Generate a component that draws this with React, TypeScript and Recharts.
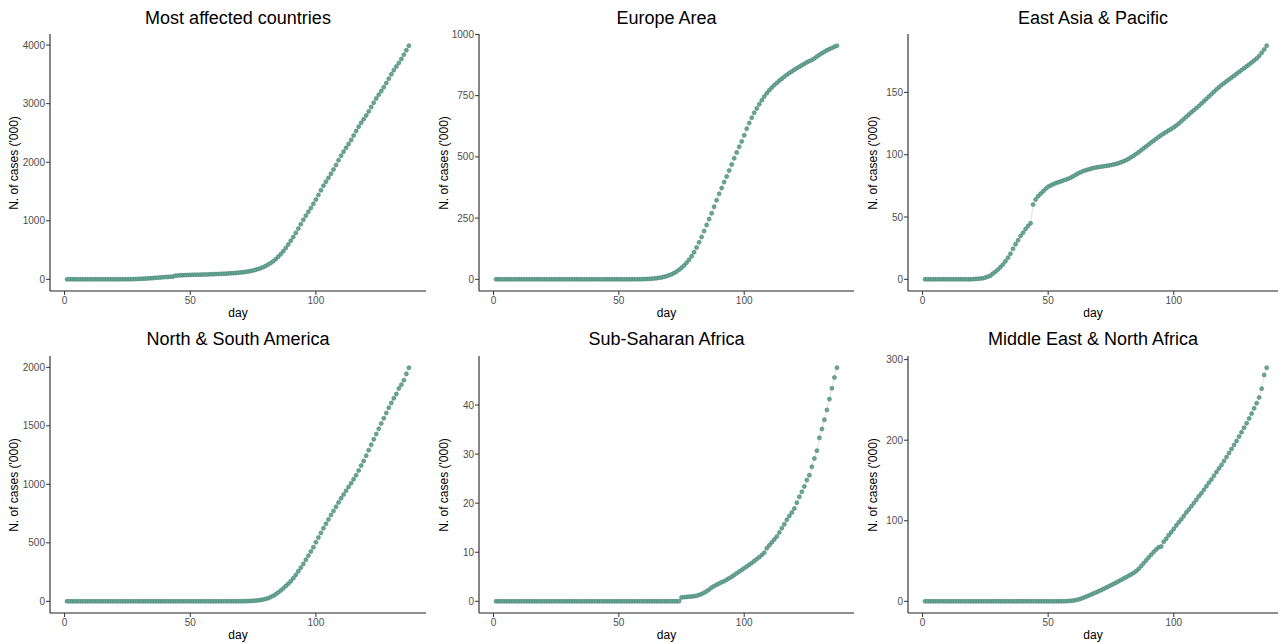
import React from "react";
import { LineChart, Line, XAxis, YAxis } from "recharts";

// cumulative confirmed cases ('000), one value per day, day 1..137
const mostAffected = [
  0, 0, 0, 0, 0, 0, 0, 0, 0, 0,
  0, 0, 0, 0, 0, 0, 0, 0, 0, 0.1,
  0.3, 0.4, 0.6, 0.9, 1.4, 2.1, 3, 4.6, 6.1, 7.9,
  9.9, 12, 14.6, 17.5, 20.7, 24.7, 28.3, 31.6, 35, 37.7,
  40.7, 43.3, 45.6, 60.7, 64.8, 67.6, 69.7, 71.7, 73.8, 75.6,
  76.7, 77.8, 78.9, 79.8, 80.9, 82.1, 83.5, 85.2, 87.3, 89.7,
  91, 93, 95, 97, 99, 102, 105, 108, 112, 116,
  121, 127, 134, 142, 152, 163, 176, 191, 208, 228,
  251, 278, 309, 344, 384, 429, 479, 534, 594, 658,
  722, 793, 866, 942, 1016, 1087, 1153, 1218, 1289, 1362,
  1440, 1522, 1600, 1668, 1733, 1803, 1875, 1952, 2033, 2111,
  2180, 2245, 2311, 2381, 2455, 2531, 2606, 2672, 2735, 2799,
  2868, 2942, 3016, 3089, 3153, 3215, 3281, 3352, 3426, 3500,
  3571, 3634, 3696, 3763, 3836, 3913, 3990,
];

const europeArea = [
  0, 0, 0, 0, 0, 0, 0, 0, 0, 0,
  0, 0, 0, 0, 0, 0, 0, 0, 0, 0,
  0, 0, 0, 0, 0, 0, 0, 0, 0, 0,
  0, 0, 0, 0, 0, 0, 0, 0, 0, 0,
  0, 0, 0, 0, 0, 0, 0, 0, 0, 0,
  0, 0, 0, 0, 0, 0.1, 0.2, 0.3, 0.5, 0.8,
  1.2, 1.8, 2.5, 3.4, 4.5, 6, 7.8, 10, 12.8, 16.2,
  20.3, 25.4, 31.5, 38.8, 47, 56.5, 67.5, 80, 94.5, 111,
  130, 151, 173, 197, 222, 246, 270, 296, 323, 349,
  373, 397, 420, 444, 469, 494, 518, 541, 563, 588,
  615, 638, 660, 680, 698, 715, 731, 746, 760, 772,
  783, 793, 802, 811, 819, 827, 835, 842, 849, 856,
  862, 868, 874, 880, 886, 891, 896, 902, 910, 917,
  923, 929, 935, 940, 945, 950, 954,
];

const eastAsiaPacific = [
  0, 0, 0, 0, 0, 0, 0, 0, 0, 0,
  0, 0, 0, 0, 0, 0, 0, 0, 0, 0.1,
  0.3, 0.4, 0.6, 0.9, 1.4, 2.1, 2.9, 4.6, 6.1, 7.8,
  9.8, 11.9, 14.5, 17.4, 20.5, 24.5, 28.1, 31.3, 34.7, 37.3,
  40.3, 42.8, 45, 60, 64, 66.7, 68.7, 70.6, 72.6, 74.3,
  75.3, 76.3, 77.2, 77.8, 78.6, 79.3, 80, 80.7, 81.6, 82.8,
  84, 85.1, 86, 86.9, 87.6, 88.2, 88.8, 89.3, 89.7, 90.1,
  90.4, 90.7, 91, 91.3, 91.7, 92.1, 92.6, 93.2, 93.9, 94.7,
  95.6, 96.7, 97.9, 99.2, 100.6, 102, 103.5, 105.1, 106.6, 108.2,
  109.8, 111.3, 112.8, 114.3, 115.7, 117, 118.3, 119.5, 120.7, 122,
  123.4, 125, 126.8, 128.6, 130.4, 132.2, 134, 135.7, 137.4, 139.1,
  141, 142.9, 144.8, 146.7, 148.6, 150.5, 152.4, 154.2, 155.9, 157.4,
  158.9, 160.4, 161.9, 163.4, 164.9, 166.4, 167.9, 169.4, 170.9, 172.4,
  174, 175.6, 177.3, 179.3, 181.8, 184.5, 187.5,
];

const americas = [
  0, 0, 0, 0, 0, 0, 0, 0, 0, 0,
  0, 0, 0, 0, 0, 0, 0, 0, 0, 0,
  0, 0, 0, 0, 0, 0, 0, 0, 0, 0,
  0, 0, 0, 0, 0, 0, 0, 0, 0, 0,
  0, 0, 0, 0, 0, 0, 0, 0, 0, 0,
  0, 0, 0, 0, 0, 0, 0, 0, 0, 0,
  0, 0, 0.1, 0.1, 0.2, 0.2, 0.3, 0.4, 0.5, 0.7,
  1, 1.5, 2.1, 3, 4.2, 6, 8.3, 11.5, 15.5, 20.5,
  27, 36, 47, 60, 75, 92, 110, 130, 150, 172,
  198, 226, 256, 287, 320, 355, 390, 426, 462, 505,
  545, 585, 625, 662, 700, 737, 772, 808, 845, 880,
  912, 945, 978, 1010, 1043, 1078, 1118, 1160, 1200, 1245,
  1292, 1338, 1385, 1430, 1475, 1520, 1565, 1610, 1655, 1695,
  1735, 1772, 1820, 1852, 1890, 1944, 1997,
];

const subSaharanAfrica = [
  0, 0, 0, 0, 0, 0, 0, 0, 0, 0,
  0, 0, 0, 0, 0, 0, 0, 0, 0, 0,
  0, 0, 0, 0, 0, 0, 0, 0, 0, 0,
  0, 0, 0, 0, 0, 0, 0, 0, 0, 0,
  0, 0, 0, 0, 0, 0, 0, 0, 0, 0,
  0, 0, 0, 0, 0, 0, 0, 0, 0, 0,
  0, 0, 0, 0, 0, 0, 0, 0, 0, 0,
  0, 0, 0, 0, 0.8, 0.85, 0.9, 0.95, 1, 1.05,
  1.15, 1.3, 1.5, 1.75, 2.05, 2.4, 2.8, 3.1, 3.4, 3.65,
  3.9, 4.1, 4.4, 4.7, 5, 5.35, 5.7, 6.05, 6.4, 6.75,
  7.1, 7.45, 7.8, 8.2, 8.6, 9, 9.45, 9.9, 10.8, 11.4,
  12, 12.6, 13.2, 14, 14.9, 15.7, 16.6, 17.4, 18.1, 18.9,
  20.1, 21.3, 22.3, 23.4, 24.7, 25.7, 27.4, 29.1, 30.7, 33.3,
  35.1, 37, 39, 41.2, 43.4, 45.6, 47.6,
];

const middleEastNorthAfrica = [
  0, 0, 0, 0, 0, 0, 0, 0, 0, 0,
  0, 0, 0, 0, 0, 0, 0, 0, 0, 0,
  0, 0, 0, 0, 0, 0, 0, 0, 0, 0,
  0, 0, 0, 0, 0, 0, 0, 0, 0, 0,
  0, 0, 0, 0, 0, 0, 0, 0, 0, 0,
  0, 0, 0, 0, 0, 0.1, 0.2, 0.4, 0.6, 0.9,
  1.5, 2.3, 3.3, 4.4, 5.6, 6.9, 8.2, 9.6, 11, 12.4,
  13.8, 15.3, 16.8, 18.4, 20, 21.6, 23.2, 24.8, 26.5, 28.2,
  29.9, 31.6, 33.4, 35.3, 37.4, 40.2, 43.6, 47.2, 50.8, 54.4,
  57.9, 61.3, 64.4, 67.1, 68, 73.8, 77.6, 81.9, 85.7, 89.9,
  94.1, 98, 101.8, 105.9, 110.3, 114, 117.9, 121.9, 126.1, 130.3,
  134.2, 138.4, 142.8, 147.1, 151.3, 155.9, 160.6, 165, 169.3, 174.1,
  179, 184, 189, 194, 199, 204.5, 210, 215.5, 221, 227,
  233, 239.5, 246, 253, 264, 281, 290,
];

const xTicks = [0, 50, 100];
const mostAffectedTicks = [0, 1000, 2000, 3000, 4000];
const europeTicks = [0, 250, 500, 750, 1000];
const eastAsiaTicks = [0, 50, 100, 150];
const americasTicks = [0, 500, 1000, 1500, 2000];
const subSaharanTicks = [0, 10, 20, 30, 40];
const menaTicks = [0, 100, 200, 300];

const days = mostAffected.map((_, i) => i + 1);

const FONT = '"Liberation Sans", Arial, Helvetica, sans-serif';
const DOT = { r: 2, fill: "#67a896", stroke: "#46806f", strokeWidth: 0.6 };

const COLS = [
  { x: 0, w: 430, axis: 50, right: 426, yTitleX: 14, xDomain: [-5.8, 143.8] },
  { x: 430, w: 430, axis: 479, right: 854, yTitleX: 444, xDomain: [-5.8, 143.8] },
  { x: 860, w: 423, axis: 908, right: 1278, yTitleX: 873, xDomain: [-5.8, 141.5] },
];
const ROWS = [
  { y: 0, h: 320, plotTop: 34, plotBottom: 291, titleY: 17.5, xTitleY: 313 },
  { y: 320, h: 324, plotTop: 356, plotBottom: 613, titleY: 339, xTitleY: 635 },
];

const panels = [
  { title: "Most affected countries", values: mostAffected, ticks: mostAffectedTicks, col: 0, row: 0 },
  { title: "Europe Area", values: europeArea, ticks: europeTicks, col: 1, row: 0 },
  { title: "East Asia & Pacific", values: eastAsiaPacific, ticks: eastAsiaTicks, col: 2, row: 0 },
  { title: "North & South America", values: americas, ticks: americasTicks, col: 0, row: 1 },
  { title: "Sub-Saharan Africa", values: subSaharanAfrica, ticks: subSaharanTicks, col: 1, row: 1 },
  { title: "Middle East & North Africa", values: middleEastNorthAfrica, ticks: menaTicks, col: 2, row: 1 },
];

function Panel({ title, values, ticks, col, row }: { title: string; values: number[]; ticks: number[]; col: number; row: number }) {
  const c = COLS[col];
  const r = ROWS[row];
  const data = values.map((v, i) => ({ day: days[i], cases: v }));
  const max = Math.max(...values);
  const yDomain = [-0.05 * max, 1.05 * max];
  const plotW = c.right - c.axis;
  const tickStyle = { fill: "#4d4d4d", fontSize: 10, fontFamily: FONT };

  return (
    <>
      <div style={{ position: "absolute", left: c.x, top: r.y }}>
        <LineChart
          width={c.w}
          height={r.h}
          data={data}
          margin={{ top: r.plotTop - r.y, right: c.x + c.w - c.right, bottom: 0, left: 0 }}
        >
          <XAxis
            type="number"
            dataKey="day"
            domain={c.xDomain}
            ticks={xTicks}
            interval={0}
            allowDataOverflow
            height={r.y + r.h - r.plotBottom}
            tick={tickStyle}
            tickSize={4}
            tickMargin={2}
            axisLine={{ stroke: "#222", strokeWidth: 1.1 }}
            tickLine={{ stroke: "#333" }}
          />
          <YAxis
            type="number"
            domain={yDomain}
            ticks={ticks}
            interval={0}
            allowDataOverflow
            width={c.axis - c.x}
            tick={tickStyle}
            tickSize={4}
            tickMargin={1}
            axisLine={{ stroke: "#222", strokeWidth: 1.1 }}
            tickLine={{ stroke: "#333" }}
          />
          <Line
            type="linear"
            dataKey="cases"
            stroke="#d4d4d4"
            strokeWidth={0.7}
            dot={DOT}
            activeDot={false}
            isAnimationActive={false}
          />
        </LineChart>
      </div>
      <div
        style={{
          position: "absolute",
          left: c.axis,
          width: plotW,
          top: r.titleY - 10,
          height: 20,
          lineHeight: "20px",
          fontSize: 18,
          textAlign: "center",
          color: "#000",
          whiteSpace: "nowrap",
        }}
      >
        {title}
      </div>
      <div
        style={{
          position: "absolute",
          left: c.axis,
          width: plotW,
          top: r.xTitleY - 7,
          height: 14,
          lineHeight: "14px",
          fontSize: 12,
          textAlign: "center",
          color: "#000",
        }}
      >
        day
      </div>
      <div
        style={{
          position: "absolute",
          left: c.yTitleX - 100,
          top: (r.plotTop + r.plotBottom) / 2 - 7,
          width: 200,
          height: 14,
          lineHeight: "14px",
          fontSize: 12,
          textAlign: "center",
          color: "#000",
          transform: "rotate(-90deg)",
          whiteSpace: "nowrap",
        }}
      >
        N. of cases ('000)
      </div>
    </>
  );
}

export default function App() {
  return (
    <div
      style={{
        position: "absolute",
        left: 0,
        top: 0,
        width: 1283,
        height: 644,
        background: "#fff",
        fontFamily: FONT,
        overflow: "hidden",
      }}
    >
      {panels.map((p) => (
        <Panel key={p.title} {...p} />
      ))}
    </div>
  );
}
